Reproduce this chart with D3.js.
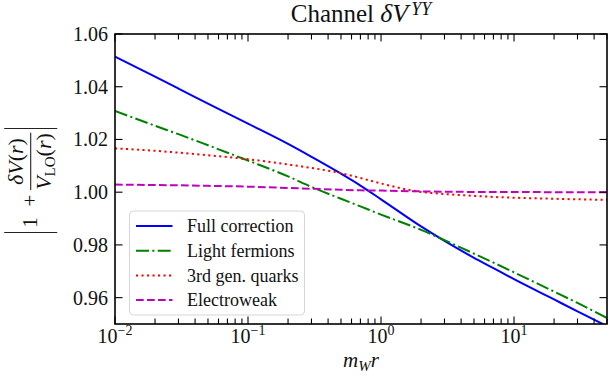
<!DOCTYPE html>
<html><head><meta charset="utf-8">
<script src="https://cdn.jsdelivr.net/npm/d3@7"></script>
<style>
body{margin:0;background:#fff;}
svg{display:block;}
</style></head>
<body><svg id="c" width="615" height="380"></svg>
<script>
const rValues = [0.01,0.02,0.03,0.05,0.1,0.2,0.3,0.5,0.7,1,2,3,5,7,10,20,30,50];
const fullCorrection = [1.0514,1.0438,1.0393,1.0336,1.0260,1.0183,1.0134,1.0070,1.0025,0.9973,0.9870,0.9815,0.9751,0.9712,0.9670,0.9593,0.9548,0.9492];
const lightFermions = [1.0308,1.0252,1.0220,1.0178,1.0120,1.0060,1.0020,0.9975,0.9946,0.9915,0.9857,0.9818,0.9767,0.9733,0.9696,0.9623,0.9580,0.9523];
const thirdGenQuarks = [1.0166,1.0157,1.0150,1.0140,1.0125,1.0105,1.0092,1.0072,1.0054,1.0033,1.0001,0.9993,0.9986,0.9982,0.9979,0.9975,0.9973,0.9971];
const electroweak = [1.0029,1.0027,1.0026,1.0024,1.0021,1.0016,1.0013,1.0009,1.0007,1.0006,1.0003,1.0002,1.0001,1.0001,1.0001,1.0000,1.0000,1.0000];
const seriesNames = ["Full correction","Light fermions","3rd gen. quarks","Electroweak"];
const yTicks = [0.96,0.98,1.00,1.02,1.04,1.06];
const xMajorTicks = [0.01,0.1,1,10];
const xTickExponents = ["−2","−1","0","1"];
const xDomain = [0.01,50];
const yDomain = [0.95,1.06];

const FONT = "'Liberation Serif', 'DejaVu Serif', serif";
const svg = d3.select("#c");
const L=115, R=607, T=34, B=324;
const x = d3.scaleLog().domain(xDomain).range([L,R]);
const y = d3.scaleLinear().domain(yDomain).range([B,T]);

function txt(parent){ return parent.append("text").attr("font-family",FONT).attr("fill","#111"); }

const styles = [
  {color:"#0000ff", dash:null},
  {color:"#008000", dash:"13,3.3,2.1,3.3"},
  {color:"#ff0000", dash:"2.1,3.4"},
  {color:"#bf00bf", dash:"7.7,3.3"}
];
const allSeries = [fullCorrection, lightFermions, thirdGenQuarks, electroweak];

svg.append("defs").append("clipPath").attr("id","clip")
  .append("rect").attr("x",L).attr("y",T).attr("width",R-L).attr("height",B-T);

const line = d3.line().x(d=>x(d[0])).y(d=>y(d[1])).curve(d3.curveMonotoneX);
const g = svg.append("g").attr("clip-path","url(#clip)");
allSeries.forEach((s,i)=>{
  g.append("path").datum(rValues.map((r,j)=>[r,s[j]]))
    .attr("d",line).attr("fill","none")
    .attr("stroke",styles[i].color).attr("stroke-width",2)
    .attr("stroke-dasharray",styles[i].dash);
});

// ticks
const minor = [];
for (let e=-2;e<=1;e++) for (let k=2;k<=9;k++){const v=k*Math.pow(10,e); if(v<=xDomain[1]) minor.push(v);}
const axG = svg.append("g").attr("stroke","#000").attr("stroke-width",1.1);
minor.forEach(v=>{
  axG.append("line").attr("x1",x(v)).attr("x2",x(v)).attr("y1",B).attr("y2",B-5.5);
  axG.append("line").attr("x1",x(v)).attr("x2",x(v)).attr("y1",T).attr("y2",T+5.5);
});
xMajorTicks.forEach(v=>{
  axG.append("line").attr("x1",x(v)).attr("x2",x(v)).attr("y1",B).attr("y2",B-7.5);
  axG.append("line").attr("x1",x(v)).attr("x2",x(v)).attr("y1",T).attr("y2",T+7.5);
});
yTicks.forEach(v=>{
  axG.append("line").attr("x1",L).attr("x2",L+7.5).attr("y1",y(v)).attr("y2",y(v));
  axG.append("line").attr("x1",R).attr("x2",R-7.5).attr("y1",y(v)).attr("y2",y(v));
});
svg.append("rect").attr("x",L).attr("y",T).attr("width",R-L).attr("height",B-T)
  .attr("fill","none").attr("stroke","#000").attr("stroke-width",1.6);

// tick labels
yTicks.forEach(v=>{
  txt(svg).attr("x",L-7).attr("y",y(v)+7).attr("text-anchor","end")
    .attr("font-size",20).text(v.toFixed(2));
});
xMajorTicks.forEach((v,i)=>{
  const t = txt(svg).attr("x",x(v)).attr("y",B+19).attr("text-anchor","middle").attr("font-size",20);
  t.append("tspan").text("10");
  t.append("tspan").attr("dy",-8).attr("font-size",14).text(xTickExponents[i]);
});

// title
const title = txt(svg).attr("x",(L+R)/2).attr("y",22).attr("text-anchor","middle").attr("font-size",25);
title.append("tspan").text("Channel ");
title.append("tspan").attr("font-style","italic").attr("font-size",26).text("δV");
title.append("tspan").attr("font-style","italic").attr("font-size",18).attr("dx",3).attr("dy",-7).text("YY");

// x label
const xl = txt(svg).attr("x",(L+R)/2).attr("y",367).attr("text-anchor","middle").attr("font-size",21).attr("font-style","italic");
xl.append("tspan").text("m");
xl.append("tspan").attr("font-size",15).attr("dy",4).text("W");
xl.append("tspan").attr("dy",-4).text("r");

// y label
const yl = svg.append("g").attr("transform","translate(30.7,180.5) rotate(-90)");
yl.append("line").attr("x1",-52).attr("x2",-52).attr("y1",-26.5).attr("y2",26.5).attr("stroke","#222").attr("stroke-width",1.1);
yl.append("line").attr("x1",52).attr("x2",52).attr("y1",-26.5).attr("y2",26.5).attr("stroke","#222").attr("stroke-width",1.1);
txt(yl).attr("x",-42).attr("y",6.5).attr("text-anchor","middle").attr("font-size",21).text("1");
txt(yl).attr("x",-20).attr("y",6.5).attr("text-anchor","middle").attr("font-size",21).text("+");
yl.append("line").attr("x1",-9.5).attr("x2",47.8).attr("y1",0).attr("y2",0).attr("stroke","#222").attr("stroke-width",1.1);
const num = txt(yl).attr("x",19).attr("y",-7.5).attr("text-anchor","middle").attr("font-size",22);
num.append("tspan").attr("font-style","italic").text("δV");
num.append("tspan").text("(");
num.append("tspan").attr("font-style","italic").text("r");
num.append("tspan").text(")");
const den = txt(yl).attr("x",19).attr("y",20.5).attr("text-anchor","middle").attr("font-size",22);
den.append("tspan").attr("font-style","italic").text("V");
den.append("tspan").attr("font-size",15).attr("dy",4).text("LO");
den.append("tspan").attr("dy",-4).text("(");
den.append("tspan").attr("font-style","italic").text("r");
den.append("tspan").text(")");

// legend
const lg = svg.append("g");
lg.append("rect").attr("x",129.5).attr("y",211).attr("width",175).attr("height",104).attr("rx",4)
  .attr("fill","#fff").attr("fill-opacity",0.8).attr("stroke","#d5d5d5").attr("stroke-width",1);
const rowY = [226,250.7,275.5,300];
seriesNames.forEach((n,i)=>{
  lg.append("line").attr("x1",136).attr("x2",172.5).attr("y1",rowY[i]).attr("y2",rowY[i])
    .attr("stroke",styles[i].color).attr("stroke-width",2).attr("stroke-dasharray",styles[i].dash);
  txt(lg).attr("x",187).attr("y",rowY[i]+6).attr("font-size",18).text(n);
});
</script></body></html>
